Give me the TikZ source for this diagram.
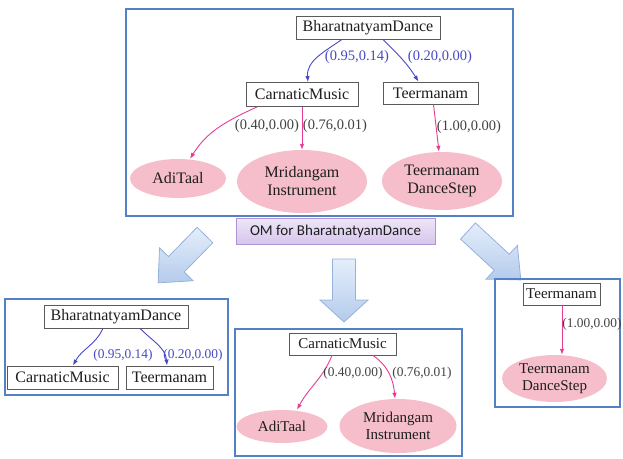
\documentclass[tikz,border=0pt]{standalone}
\usepackage{fontspec}
\setmainfont{Liberation Serif}
\newfontfamily\nodefont{Liberation Serif}
\newfontfamily\omfont{Carlito}
\usetikzlibrary{shapes.geometric,arrows.meta}

\definecolor{frameblue}{RGB}{84,128,200}
\definecolor{boxgray}{RGB}{90,90,90}
\definecolor{txt}{RGB}{30,30,30}
\definecolor{pinkfill}{RGB}{246,190,202}
\definecolor{relblue}{RGB}{70,72,196}
\definecolor{proppink}{RGB}{232,58,146}
\definecolor{lblgray}{RGB}{65,65,65}
\definecolor{arrowlight}{RGB}{228,238,251}
\definecolor{arrowdark}{RGB}{180,203,236}
\definecolor{arrowedge}{RGB}{150,178,218}
\definecolor{omlight}{RGB}{238,230,248}
\definecolor{omdark}{RGB}{214,198,236}
\definecolor{omedge}{RGB}{176,148,210}

\tikzset{
  frame/.style={draw=frameblue, line width=1.4pt},
  cls/.style={draw=boxgray, fill=white, line width=0.8pt, inner sep=0pt, text=txt},
  inst/.style={ellipse, fill=pinkfill, draw=none, inner sep=0pt, align=center, text=txt},
  rel/.style={draw=relblue, line width=0.9pt, -{Latex[length=6pt,width=4.5pt]}},
  prop/.style={draw=proppink, line width=0.9pt, -{Latex[length=6pt,width=4.5pt]}},
  bluelbl/.style={inner sep=0pt, text=relblue},
  graylbl/.style={inner sep=0pt, text=lblgray},
  bigarrow/.style={draw=arrowedge, line width=0.8pt, line join=miter,
    top color=arrowlight, bottom color=arrowdark},
  f16/.style={font=\nodefont\fontsize{16}{18}\selectfont},
  f15/.style={font=\nodefont\fontsize{15}{17}\selectfont},
  lbl14/.style={font=\nodefont\fontsize{14.5}{16}\selectfont},
  lbl13/.style={font=\nodefont\fontsize{13.4}{15}\selectfont},
}

% block arrow: tail centre, direction angle, length, shaft half-width, head half-width, head length
\newcommand\blockarrow[6]{%
  \begin{scope}[shift={#1}, rotate=#2]
    \draw[bigarrow] (0,-#4) -- ({#3-#6},-#4) -- ({#3-#6},-#5) -- (#3,0)
      -- ({#3-#6},#5) -- ({#3-#6},#4) -- (0,#4) -- cycle;
  \end{scope}}

\begin{document}
\begin{tikzpicture}[x=1pt,y=-1pt]
\useasboundingbox (0,0) rectangle (623,458);

% ---------- full ontology model ----------
\draw[frame] (126,9) rectangle (513,216);
\node[cls,f16,minimum width=144pt,minimum height=23pt] (bd) at (368,27.5) {BharatnatyamDance};
\node[cls,f16,minimum width=112pt,minimum height=24pt] (cm) at (302,94.5) {CarnaticMusic};
\node[cls,f16,minimum width=95pt,minimum height=22pt] (tm) at (430.5,93) {Teermanam};
\node[inst,f16,minimum width=96pt,minimum height=39pt] (adi) at (178,178.5) {AdiTaal};
\node[inst,f16,minimum width=130pt,minimum height=63pt] (mr) at (302,181.5) {Mridangam\\Instrument};
\node[inst,f16,minimum width=120pt,minimum height=58pt] (ds) at (442,181) {Teermanam\\DanceStep};

\draw[rel] ([xshift=-26pt]bd.south) to[out=-145,in=95] ([xshift=6pt]cm.north);
\draw[rel] ([xshift=15pt]bd.south) to[out=-45,in=122] ([xshift=-12pt]tm.north);
\draw[prop] ([xshift=-45pt]cm.south) to[out=-155,in=58] ([xshift=12pt]adi.north);
\draw[prop] (cm.south) -- (mr.north);
\draw[prop] ([xshift=3pt]tm.south) -- ([xshift=-3pt]ds.north);

\node[bluelbl,lbl14] (l1) at (357,57) {(0.95,0.14)};
\node[bluelbl,lbl14] (l2) at (440,57) {(0.20,0.00)};
\node[graylbl,lbl14] (l3) at (267,126) {(0.40,0.00)};
\node[graylbl,lbl14] (l4) at (335,126) {(0.76,0.01)};
\node[graylbl,lbl14] (l5) at (469,127) {(1.00,0.00)};

% caption tab
\node[draw=omedge, line width=0.8pt, top color=omlight, bottom color=omdark,
      minimum width=199pt, minimum height=26pt, inner sep=0pt, text=txt,
      font=\omfont\fontsize{15}{17}\selectfont] (om) at (335.5,231) {OM for BharatnatyamDance};

% ---------- block arrows ----------
\blockarrow{(205,235)}{225.6}{67}{11}{23.5}{26}
\blockarrow{(344,259)}{-90}{63}{11.5}{24}{22}
\blockarrow{(468,231)}{-42.8}{72}{11}{23}{26}

% ---------- upper fragment ----------
\draw[frame] (5,299) rectangle (228,395);
\node[cls,f16,minimum width=144pt,minimum height=23pt] (bd2) at (116,316.5) {BharatnatyamDance};
\node[cls,f16,minimum width=111pt,minimum height=23pt] (cm2) at (62.5,377.5) {CarnaticMusic};
\node[cls,f16,minimum width=87pt,minimum height=23pt] (tm2) at (169.5,377.5) {Teermanam};
\draw[rel] ([xshift=-13pt]bd2.south) to[out=-115,in=62] ([xshift=10.5pt]cm2.north);
\draw[rel] ([xshift=24pt]bd2.south) to[out=-45,in=95] ([xshift=-2.5pt]tm2.north);
\node[bluelbl,lbl13] (l6) at (123,355) {(0.95,0.14)};
\node[bluelbl,lbl13] (l7) at (193,355) {(0.20,0.00)};

% ---------- music fragment ----------
\draw[frame] (235,329) rectangle (462,456);
\node[cls,f15,minimum width=107pt,minimum height=22pt] (cm3) at (342.5,344) {CarnaticMusic};
\node[inst,f15,minimum width=91pt,minimum height=33pt] (adi3) at (282,426.5) {AdiTaal};
\node[inst,f15,minimum width=117pt,minimum height=54pt] (mr3) at (398,426) {Mridangam\\Instrument};
\draw[prop] ([xshift=-10.5pt]cm3.south) to[out=-112,in=62] ([xshift=15pt]adi3.north);
\draw[prop] ([xshift=30.5pt]cm3.south) to[out=-35,in=95] ([xshift=-3pt]mr3.north);
\node[graylbl,lbl13] (l8) at (353,373) {(0.40,0.00)};
\node[graylbl,lbl13] (l9) at (422,373) {(0.76,0.01)};

% ---------- dance-step fragment ----------
\draw[frame] (495,279) rectangle (620,407);
\node[cls,f15,minimum width=77pt,minimum height=22pt] (tm4) at (561.5,294) {Teermanam};
\node[inst,f15,minimum width=105pt,minimum height=47pt] (ds4) at (554.5,378.5) {Teermanam\\DanceStep};
\draw[prop] ([xshift=0.5pt]tm4.south) -- ([xshift=7.5pt]ds4.north);
\node[graylbl,lbl13] (l10) at (592,324) {(1.00,0.00)};
\end{tikzpicture}
\end{document}
